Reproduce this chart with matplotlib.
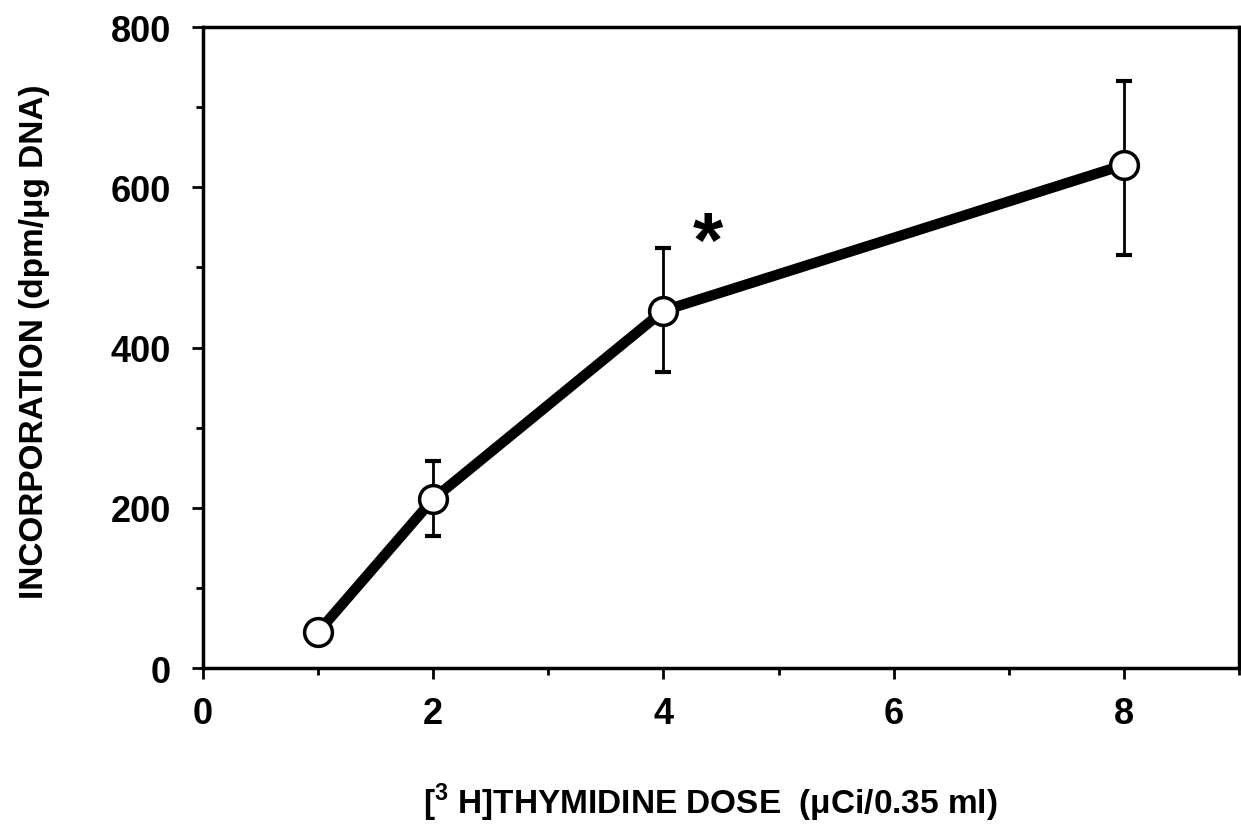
import matplotlib.pyplot as plt
from matplotlib.ticker import MultipleLocator

# values
dose = [1, 2, 4, 8]
incorporation = [45, 211, 446, 628]
err_low = [0, 46, 77, 113]
err_high = [0, 47, 78, 105]

plt.rcParams['font.family'] = ['Liberation Sans', 'DejaVu Sans']
plt.rcParams['font.weight'] = 'bold'
plt.rcParams['mathtext.fontset'] = 'custom'
plt.rcParams['mathtext.bf'] = 'Liberation Sans:bold'
plt.rcParams['mathtext.rm'] = 'Liberation Sans:bold'

fig = plt.figure(figsize=(12.41, 8.28), dpi=100)
ax = fig.add_axes([0.1636, 0.192, 0.8348, 0.774])

ax.errorbar(dose, incorporation, yerr=[err_low, err_high], fmt='none',
            ecolor='black', elinewidth=2, capsize=6, capthick=3, zorder=2)
ax.plot(dose, incorporation, color='black', linewidth=7.5, zorder=3)
ax.plot(dose, incorporation, linestyle='none', marker='o', markersize=20,
        markerfacecolor='white', markeredgecolor='black', markeredgewidth=2.5, zorder=4)

# significance mark
ax.text(4.39, 527, '*', fontsize=56, fontweight='bold', ha='center', va='center')

ax.set_xlim(0, 9)
ax.set_ylim(0, 800)
ax.xaxis.set_major_locator(MultipleLocator(2))
ax.xaxis.set_minor_locator(MultipleLocator(1))
ax.yaxis.set_major_locator(MultipleLocator(200))
ax.yaxis.set_minor_locator(MultipleLocator(100))
ax.tick_params(which='both', direction='out', width=2, top=False, right=False)
ax.tick_params(which='major', length=8, labelsize=26)
ax.tick_params(axis='x', which='major', pad=12)
ax.tick_params(axis='y', which='major', pad=15)
ax.tick_params(which='minor', length=5)
for s in ax.spines.values():
    s.set_linewidth(2.5)

ax.set_xlabel(r'[$^{\mathbf{3}}$ H]THYMIDINE DOSE  ($\mathbf{\mu}$Ci/0.35 ml)',
              fontsize=24, fontweight='bold')
ax.xaxis.set_label_coords(0.49, -0.176)
ax.set_ylabel('INCORPORATION (dpm/μg DNA)', fontsize=24, fontweight='bold')
ax.yaxis.set_label_coords(-0.148, 0.51)

fig.savefig('out.png', dpi=100)
